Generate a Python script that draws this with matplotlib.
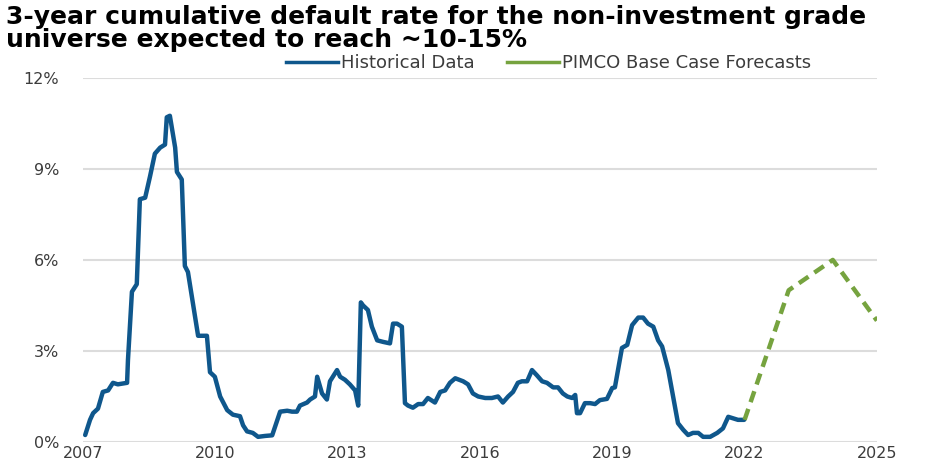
import matplotlib
matplotlib.use('Agg')
import matplotlib.pyplot as plt
from matplotlib.lines import Line2D
from matplotlib.ticker import FuncFormatter

# ------------------------------------------------------------
# Data: 3-year cumulative default rate (%), decimal years
# ------------------------------------------------------------
hist_years = [
    2007.05, 2007.16, 2007.23, 2007.34, 2007.45, 2007.57, 2007.68, 2007.79,
    2008.00, 2008.02, 2008.11, 2008.22, 2008.29, 2008.41, 2008.52, 2008.63,
    2008.75, 2008.86, 2008.90, 2008.97, 2009.09, 2009.13, 2009.24, 2009.31,
    2009.38, 2009.49, 2009.61, 2009.81, 2009.88, 2009.99, 2010.11, 2010.27,
    2010.40, 2010.56, 2010.63, 2010.72, 2010.85, 2010.97, 2011.13, 2011.29,
    2011.47, 2011.63, 2011.74, 2011.85, 2011.92, 2012.08, 2012.15, 2012.26,
    2012.31, 2012.42, 2012.53, 2012.60, 2012.76, 2012.83, 2012.94, 2013.05,
    2013.17, 2013.24, 2013.30, 2013.35, 2013.46, 2013.55, 2013.67, 2013.80,
    2013.96, 2014.03, 2014.12, 2014.23, 2014.30, 2014.37, 2014.48, 2014.60,
    2014.71, 2014.82, 2014.98, 2015.10, 2015.21, 2015.32, 2015.44, 2015.62,
    2015.73, 2015.84, 2015.96, 2016.12, 2016.27, 2016.41, 2016.52, 2016.64,
    2016.75, 2016.86, 2016.95, 2017.07, 2017.18, 2017.29, 2017.41, 2017.52,
    2017.66, 2017.77, 2017.88, 2017.98, 2018.09, 2018.16, 2018.20, 2018.27,
    2018.38, 2018.50, 2018.61, 2018.72, 2018.88, 2019.00, 2019.06, 2019.22,
    2019.34, 2019.45, 2019.59, 2019.70, 2019.81, 2019.93, 2020.04, 2020.13,
    2020.27, 2020.38, 2020.49, 2020.61, 2020.72, 2020.83, 2020.95, 2021.06,
    2021.22, 2021.38, 2021.51, 2021.63, 2021.74, 2021.85, 2021.99,
]
hist_rate = [
    0.23, 0.73, 0.95, 1.10, 1.65, 1.70, 1.95, 1.90,
    1.95, 2.70, 4.95, 5.20, 8.00, 8.05, 8.75, 9.50,
    9.70, 9.80, 10.70, 10.75, 9.70, 8.90, 8.65, 5.80,
    5.60, 4.60, 3.50, 3.50, 2.30, 2.15, 1.50, 1.05,
    0.90, 0.85, 0.55, 0.35, 0.30, 0.17, 0.20, 0.22,
    1.00, 1.03, 1.00, 1.00, 1.20, 1.30, 1.40, 1.50,
    2.15, 1.60, 1.40, 2.00, 2.37, 2.15, 2.05, 1.90,
    1.70, 1.20, 4.60, 4.50, 4.35, 3.80, 3.35, 3.30,
    3.25, 3.90, 3.90, 3.80, 1.28, 1.20, 1.13, 1.25,
    1.25, 1.45, 1.30, 1.65, 1.70, 1.95, 2.10, 2.00,
    1.90, 1.60, 1.50, 1.45, 1.45, 1.50, 1.30, 1.50,
    1.65, 1.95, 2.00, 2.00, 2.37, 2.20, 2.00, 1.95,
    1.80, 1.80, 1.60, 1.50, 1.45, 1.55, 0.95, 0.95,
    1.28, 1.28, 1.25, 1.38, 1.42, 1.78, 1.80, 3.10,
    3.20, 3.85, 4.10, 4.10, 3.90, 3.80, 3.35, 3.15,
    2.37, 1.50, 0.62, 0.40, 0.23, 0.30, 0.30, 0.17,
    0.17, 0.30, 0.45, 0.83, 0.78, 0.73, 0.73,
]

fcst_years = [2022, 2023, 2024, 2025]
fcst_rate = [0.73, 5.0, 6.0, 4.0]

year_ticks = [2007, 2010, 2013, 2016, 2019, 2022, 2025]
pct_ticks = [0, 3, 6, 9, 12]

TITLE = ('3-year cumulative default rate for the non-investment grade\n'
         'universe expected to reach ~10-15%')

BLUE = '#0f578c'
GREEN = '#76a33f'
GRID = '#dcdcdc'
TICK = '#3c3c3c'

# ------------------------------------------------------------
# Figure
# ------------------------------------------------------------
plt.rcParams['font.family'] = ['DejaVu Sans']

fig = plt.figure(figsize=(9.25, 4.66), dpi=100)
ax = fig.add_axes([0.0897, 0.0515, 0.8583, 0.7815])

ax.plot(hist_years, hist_rate, color=BLUE, linewidth=3.2,
        solid_joinstyle='round', solid_capstyle='round',
        label='Historical Data', zorder=3)
ax.plot(fcst_years, fcst_rate, color=GREEN, linewidth=3.2,
        dashes=(2.6, 1.6), label='PIMCO Base Case Forecasts', zorder=3)

ax.set_xlim(2007, 2025)
ax.set_ylim(0, 12)
ax.set_xticks(year_ticks)
ax.set_yticks(pct_ticks)
ax.yaxis.set_major_formatter(FuncFormatter(lambda v, _: f'{v:.0f}%'))
ax.tick_params(axis='both', length=0, labelsize=11.5, labelcolor=TICK)
ax.tick_params(axis='x', pad=3)
ax.tick_params(axis='y', pad=17)

ax.grid(axis='y', color=GRID, linewidth=1.5)
ax.set_axisbelow(True)
for s in ax.spines.values():
    s.set_visible(False)

# legend uses plain solid samples
handles = [Line2D([], [], color=BLUE, linewidth=2.5),
           Line2D([], [], color=GREEN, linewidth=2.5)]
fig.legend(handles, ['Historical Data', 'PIMCO Base Case Forecasts'],
           loc='center', bbox_to_anchor=(0.593, 0.864), ncol=2,
           frameon=False, fontsize=13, handlelength=2.9,
           handletextpad=0.15, columnspacing=1.8, labelcolor=TICK)

fig.text(0.006, 0.99, TITLE, ha='left', va='top', fontsize=18,
         fontweight='bold', color='black', linespacing=0.95)

fig.savefig('out.png', dpi=100, facecolor='white')
